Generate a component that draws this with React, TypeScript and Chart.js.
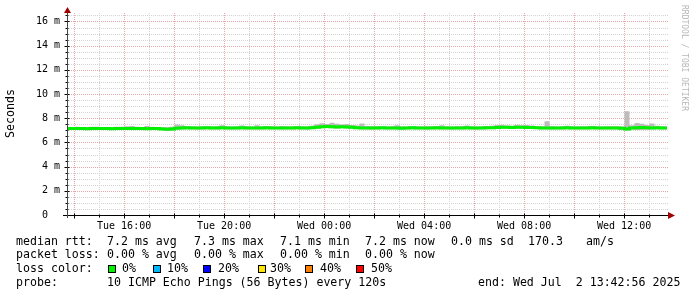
import { useEffect, useRef } from 'react';
import { Chart, registerables } from 'chart.js';

Chart.register(...registerables);

// ---- time axis (hours of day, Tue 13:42:56 -> Wed 13:42:56) ----
const START_HOUR = 13 + 42 / 60 + 56 / 3600;
const SPAN_HOURS = 24;
const STEP_HOURS = 0.2; // 12-minute samples

const xLabelHours = [16, 20, 24, 28, 32, 36];
const xLabelTexts = ['Tue 16:00', 'Tue 20:00', 'Wed 00:00', 'Wed 04:00', 'Wed 08:00', 'Wed 12:00'];

const Y_MAX = 16.7; // milliseconds
const yMajorStep = 2;
const yMinorStep = 0.5;

// ---- series (ms) ----
const medianRtt = [
  7.15, 7.15, 7.16, 7.15, 7.14, 7.15, 7.16, 7.15, 7.15, 7.14,
  7.15, 7.16, 7.15, 7.15, 7.16, 7.15, 7.14, 7.15, 7.15, 7.12,
  7.08, 7.10, 7.18, 7.20, 7.21, 7.20, 7.19, 7.20, 7.21, 7.20,
  7.20, 7.21, 7.20, 7.19, 7.20, 7.21, 7.20, 7.20, 7.19, 7.20,
  7.21, 7.20, 7.20, 7.19, 7.20, 7.20, 7.21, 7.20, 7.19, 7.22,
  7.26, 7.30, 7.32, 7.30, 7.28, 7.30, 7.27, 7.25, 7.22, 7.20,
  7.20, 7.19, 7.20, 7.21, 7.20, 7.20, 7.19, 7.18, 7.20, 7.21,
  7.20, 7.20, 7.19, 7.20, 7.21, 7.20, 7.20, 7.19, 7.20, 7.20,
  7.21, 7.20, 7.19, 7.20, 7.21, 7.22, 7.24, 7.26, 7.25, 7.24,
  7.26, 7.25, 7.24, 7.23, 7.22, 7.20, 7.20, 7.19, 7.20, 7.20,
  7.21, 7.20, 7.19, 7.20, 7.20, 7.21, 7.20, 7.19, 7.20, 7.20,
  7.20, 7.18, 7.12, 7.20, 7.22, 7.24, 7.22, 7.20, 7.21, 7.20, 7.20,
];

const smokeMax = [
  7.28, 7.27, 7.30, 7.28, 7.27, 7.29, 7.30, 7.28, 7.27, 7.28,
  7.30, 7.29, 7.33, 7.36, 7.30, 7.28, 7.35, 7.29, 7.28, 7.27,
  7.25, 7.30, 7.48, 7.42, 7.35, 7.33, 7.32, 7.33, 7.34, 7.32,
  7.33, 7.42, 7.33, 7.32, 7.34, 7.40, 7.33, 7.32, 7.41, 7.33,
  7.34, 7.33, 7.32, 7.35, 7.33, 7.32, 7.34, 7.33, 7.32, 7.38,
  7.50, 7.58, 7.52, 7.62, 7.55, 7.48, 7.52, 7.45, 7.40, 7.56,
  7.35, 7.33, 7.34, 7.33, 7.32, 7.34, 7.42, 7.33, 7.32, 7.34,
  7.33, 7.32, 7.34, 7.33, 7.35, 7.41, 7.33, 7.32, 7.34, 7.33,
  7.40, 7.33, 7.32, 7.34, 7.36, 7.38, 7.44, 7.46, 7.40, 7.38,
  7.46, 7.42, 7.45, 7.40, 7.36, 7.33, 7.75, 7.33, 7.32, 7.34,
  7.37, 7.33, 7.32, 7.34, 7.33, 7.36, 7.33, 7.32, 7.34, 7.33,
  7.34, 7.32, 8.58, 7.42, 7.60, 7.55, 7.45, 7.56, 7.38, 7.33, 7.32,
];

const smokeMin = [
  7.06, 7.05, 7.06, 7.05, 7.04, 7.06, 7.05, 7.06, 7.05, 7.04,
  7.05, 7.06, 7.05, 7.04, 7.06, 7.05, 7.04, 7.05, 7.06, 7.02,
  6.97, 6.99, 7.06, 7.08, 7.09, 7.08, 7.07, 7.08, 7.09, 7.08,
  7.08, 7.09, 7.08, 7.07, 7.08, 7.09, 7.08, 7.08, 7.07, 7.08,
  7.09, 7.08, 7.08, 7.07, 7.08, 7.08, 7.09, 7.08, 7.07, 7.10,
  7.14, 7.18, 7.19, 7.18, 7.16, 7.18, 7.15, 7.13, 7.10, 7.08,
  7.08, 7.07, 7.08, 7.09, 7.08, 7.08, 7.07, 7.06, 7.08, 7.09,
  7.08, 7.08, 7.07, 7.08, 7.09, 7.08, 7.08, 7.07, 7.08, 7.08,
  7.09, 7.08, 7.07, 7.08, 7.09, 7.10, 7.12, 7.14, 7.13, 7.12,
  7.14, 7.13, 7.12, 7.11, 7.10, 7.08, 7.08, 7.07, 7.08, 7.08,
  7.09, 7.08, 7.07, 7.08, 7.08, 7.09, 7.08, 7.07, 7.08, 7.08,
  7.08, 7.02, 6.98, 7.06, 7.02, 7.03, 7.05, 7.08, 7.09, 7.08, 7.08,
];

// ---- legend ----
const lossColors = ['#00f000', '#00b8ff', '#0000ff', '#ffe600', '#ff7f00', '#ff0000'];
const lossLabels = ['0%', '10%', '20%', '30%', '40%', '50%'];
const rttItems = ['7.2 ms avg', '7.3 ms max', '7.1 ms min', '7.2 ms now', '0.0 ms sd', '170.3', 'am/s'];
const lossItems = ['0.00 % avg', '0.00 % max', '0.00 % min', '0.00 % now'];
const probeText = '10 ICMP Echo Pings (56 Bytes) every 120s';
const endText = 'end: Wed Jul  2 13:42:56 2025';

const MONO = '"DejaVu Sans Mono", monospace';
const MAJOR_GRID = 'rgb(232,165,165)';
const MINOR_GRID = 'rgb(212,212,212)';

const toPoints = (vals: number[]) => vals.map((v, i) => ({ x: START_HOUR + i * STEP_HOURS, y: v }));

const isMajorX = (v: number) => Math.round(v) % 2 === 0;
const isMajorY = (v: number) => Math.abs(v % yMajorStep) < 1e-9;

const gridPlugin = {
  id: 'rrdgrid',
  beforeDatasetsDraw(chart: any) {
    const { ctx, chartArea: a, scales } = chart;
    ctx.save();
    ctx.lineWidth = 1;
    ctx.setLineDash([1, 1]);
    const draw = (major: boolean) => {
      ctx.strokeStyle = major ? MAJOR_GRID : MINOR_GRID;
      ctx.beginPath();
      scales.x.ticks.forEach((t: any) => {
        if (isMajorX(t.value) !== major) return;
        const px = Math.round(scales.x.getPixelForValue(t.value)) + 0.5;
        ctx.moveTo(px, a.top);
        ctx.lineTo(px, a.bottom);
      });
      scales.y.ticks.forEach((t: any) => {
        if (isMajorY(t.value) !== major || t.value === 0) return;
        const py = Math.round(scales.y.getPixelForValue(t.value)) + 0.5;
        ctx.moveTo(a.left, py);
        ctx.lineTo(a.right + 1, py);
      });
      ctx.stroke();
    };
    draw(false);
    draw(true);
    ctx.restore();
  },
};

const decorPlugin = {
  id: 'decor',
  afterDraw(chart: any) {
    const { ctx, chartArea: a, scales } = chart;
    ctx.save();
    const by = Math.round(a.bottom) + 0.5;
    const lx = Math.round(a.left) + 0.5;
    ctx.lineWidth = 1;
    ctx.setLineDash([]);
    // tick marks
    ctx.strokeStyle = '#000';
    ctx.beginPath();
    scales.x.ticks.forEach((t: any) => {
      const px = Math.round(scales.x.getPixelForValue(t.value)) + 0.5;
      ctx.moveTo(px, by - (isMajorX(t.value) ? 2 : 1));
      ctx.lineTo(px, by + (isMajorX(t.value) ? 3 : 2));
    });
    scales.y.ticks.forEach((t: any) => {
      const py = Math.round(scales.y.getPixelForValue(t.value)) + 0.5;
      ctx.moveTo(lx - (isMajorY(t.value) ? 3 : 2), py);
      ctx.lineTo(lx + (isMajorY(t.value) ? 2 : 1), py);
    });
    ctx.stroke();
    // axes
    ctx.beginPath();
    ctx.moveTo(a.left - 4, by);
    ctx.lineTo(a.right + 2, by);
    ctx.stroke();
    ctx.strokeStyle = '#444';
    ctx.beginPath();
    ctx.moveTo(lx, a.bottom + 3);
    ctx.lineTo(lx, a.top - 1);
    ctx.stroke();
    // arrows
    ctx.fillStyle = '#a00000';
    ctx.beginPath();
    ctx.moveTo(lx, a.top - 6);
    ctx.lineTo(lx - 3.5, a.top);
    ctx.lineTo(lx + 3.5, a.top);
    ctx.closePath();
    ctx.fill();
    ctx.beginPath();
    ctx.moveTo(a.right + 8, by);
    ctx.lineTo(a.right + 1, by - 3.5);
    ctx.lineTo(a.right + 1, by + 3.5);
    ctx.closePath();
    ctx.fill();

    // vertical axis title
    ctx.fillStyle = '#000';
    ctx.font = `11.6px ${MONO}`;
    ctx.textAlign = 'center';
    ctx.textBaseline = 'middle';
    ctx.save();
    ctx.translate(11, 113.5);
    ctx.rotate(-Math.PI / 2);
    ctx.fillText('Seconds', 0, 0);
    ctx.restore();

    // watermark
    ctx.save();
    ctx.fillStyle = '#b8b8b8';
    ctx.font = `8px ${MONO}`;
    ctx.textAlign = 'left';
    ctx.translate(684, 5);
    ctx.rotate(Math.PI / 2);
    ctx.fillText('RRDTOOL / TOBI OETIKER', 0, 0);
    ctx.restore();

    // legend
    ctx.fillStyle = '#000';
    ctx.font = `11.6px ${MONO}`;
    ctx.textAlign = 'left';
    ctx.textBaseline = 'middle';
    const col = [107, 194, 280, 365, 451, 528, 586];
    const r1 = 241.5, r2 = 255.2, r3 = 269, r4 = 282.7;
    ctx.fillText('median rtt:', 16, r1);
    rttItems.forEach((t, i) => ctx.fillText(t, col[i], r1));
    ctx.fillText('packet loss:', 16, r2);
    lossItems.forEach((t, i) => ctx.fillText(t, col[i], r2));
    ctx.fillText('loss color:', 16, r3);
    const boxX = [108, 153, 203, 258, 305, 356];
    const txtX = [122, 167, 218, 270, 320, 371];
    lossColors.forEach((c, i) => {
      ctx.fillStyle = c;
      ctx.fillRect(boxX[i], 265, 8, 8);
      ctx.strokeStyle = '#000';
      ctx.strokeRect(boxX[i] + 0.5, 265.5, 7, 7);
      ctx.fillStyle = '#000';
      ctx.fillText(lossLabels[i], txtX[i], r3);
    });
    ctx.fillText('probe:', 16, r4);
    ctx.fillText(probeText, 107, r4);
    ctx.fillText(endText, 478, r4);
    ctx.restore();
  },
};

export default function App() {
  const ref = useRef<HTMLCanvasElement | null>(null);
  useEffect(() => {
    if (!ref.current) return;
    const chart = new Chart(ref.current, {
      type: 'line',
      data: {
        datasets: [
          {
            label: 'median',
            data: toPoints(medianRtt),
            borderColor: lossColors[0],
            borderWidth: 3,
            pointRadius: 0,
            stepped: 'middle',
            fill: false,
          },
          {
            label: 'smokeMax',
            data: toPoints(smokeMax),
            borderColor: 'transparent',
            borderWidth: 0,
            backgroundColor: '#bcbcbc',
            pointRadius: 0,
            stepped: 'middle',
            fill: '+1',
          },
          {
            label: 'smokeMin',
            data: toPoints(smokeMin),
            borderColor: 'transparent',
            borderWidth: 0,
            pointRadius: 0,
            stepped: 'middle',
            fill: false,
          },
        ],
      },
      options: {
        animation: false,
        responsive: false,
        devicePixelRatio: 1,
        layout: { padding: { left: 0, top: 13, right: 30, bottom: 0 } },
        plugins: { legend: { display: false }, tooltip: { enabled: false } },
        scales: {
          x: {
            type: 'linear',
            min: START_HOUR,
            max: START_HOUR + SPAN_HOURS,
            afterBuildTicks: (s: any) => {
              const t = [];
              for (let h = Math.ceil(START_HOUR); h < START_HOUR + SPAN_HOURS; h++) t.push({ value: h });
              s.ticks = t;
            },
            afterFit: (s: any) => { s.height = 82; },
            border: { display: false },
            grid: { display: false, drawTicks: true, tickLength: 2 },
            ticks: {
              autoSkip: false,
              maxRotation: 0,
              minRotation: 0,
              padding: 3,
              color: '#000',
              font: { family: MONO, size: 10 },
              callback: (v: any) => {
                const i = xLabelHours.indexOf(Math.round(Number(v)));
                return i >= 0 ? xLabelTexts[i] : '';
              },
            },
          },
          y: {
            type: 'linear',
            min: 0,
            max: Y_MAX,
            afterBuildTicks: (s: any) => {
              const t = [];
              for (let v = 0; v < Y_MAX; v += yMinorStep) t.push({ value: v });
              s.ticks = t;
            },
            afterFit: (s: any) => { s.width = 67; },
            border: { display: false },
            grid: { display: false, drawTicks: true, tickLength: 3 },
            ticks: {
              autoSkip: false,
              padding: 4,
              color: '#000',
              font: { family: MONO, size: 10 },
              callback: (v: any) => {
                const n = Number(v);
                if (!isMajorY(n)) return '';
                return n === 0 ? '0  ' : `${n} m`;
              },
            },
          },
        },
      },
      plugins: [gridPlugin, decorPlugin],
    } as any);
    return () => chart.destroy();
  }, []);
  return (
    <div style={{ position: 'absolute', left: 0, top: 0, width: 697, height: 297, background: '#fff' }}>
      <canvas ref={ref} width={697} height={297} style={{ display: 'block' }} />
    </div>
  );
}
